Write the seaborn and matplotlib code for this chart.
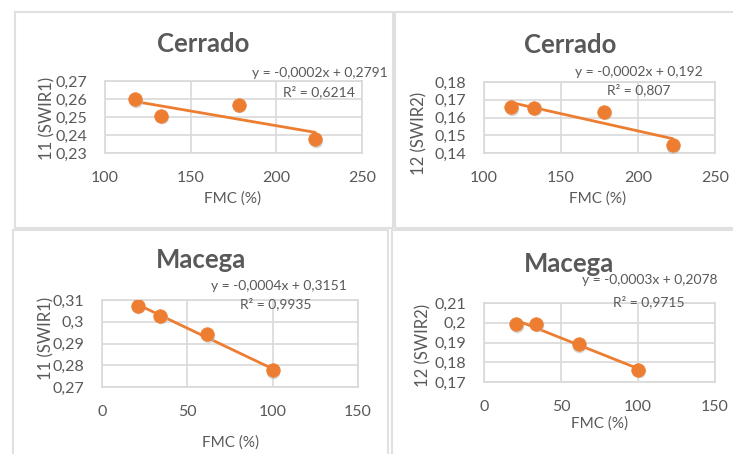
import numpy as np
import pandas as pd
import matplotlib
matplotlib.use("Agg")
import matplotlib.pyplot as plt
from matplotlib.ticker import FuncFormatter, MultipleLocator
from matplotlib.patches import Rectangle
import seaborn as sns

# ---- data ----
cerrado_fmc = [117.5, 132.7, 178.0, 222.6]
cerrado_swir1 = [0.2600, 0.2506, 0.2567, 0.2377]
cerrado_swir2 = [0.1657, 0.1655, 0.1632, 0.1443]
macega_fmc = [21.0, 34.0, 61.5, 100.0]
macega_swir1 = [0.3073, 0.3028, 0.2943, 0.2776]
macega_swir2 = [0.1993, 0.1995, 0.1890, 0.1763]

titles = ["Cerrado", "Cerrado", "Macega", "Macega"]
ylabels = ["11 (SWIR1)", "12 (SWIR2)", "11 (SWIR1)", "12 (SWIR2)"]
xlabel = "FMC (%)"
equations = ["y = -0,0002x + 0,2791", "y = -0,0002x + 0,192",
             "y = -0,0004x + 0,3151", "y = -0,0003x + 0,2078"]
r2_texts = ["R² = 0,6214", "R² = 0,807", "R² = 0,9935", "R² = 0,9715"]
xlims = [(100, 250), (100, 250), (0, 150), (0, 150)]
ylims = [(0.23, 0.27), (0.14, 0.18), (0.27, 0.31), (0.17, 0.21)]

sns.set_theme(style="white")
plt.rcParams['font.family'] = ['Lato', 'DejaVu Sans']

W, H = 733, 454
fig = plt.figure(figsize=(W / 100, H / 100), dpi=100)
fig.patch.set_facecolor("white")

def fx(px):
    return px / W

def fy(py):
    return 1 - py / H

# frames
frame_col = "#d9d9d9"
for (l, t, r, b) in [(15, 12, 393, 228), (395, 12, 740, 228),
                     (13, 230, 388, 460), (392, 230, 740, 460)]:
    fig.patches.append(Rectangle((fx(l), fy(b)), fx(r - l), (b - t) / H,
                                 transform=fig.transFigure, fill=False,
                                 edgecolor="#e0e0e0", linewidth=1.5))

# axes positions (pixels): left, top, right, bottom
boxes = [(105, 81, 362, 153), (484, 82, 715, 153),
         (102, 300, 358, 387), (484, 303, 715, 382)]
title_pos = [(203, 44), (570, 45), (201, 260), (569, 264)]
eq_pos = [(388, 73), (703, 72), (347, 286), (718, 280)]
r2_pos = [(355, 92), (670, 90), (311, 304), (685, 302)]
ylab_pos = [(47, 118), (419, 133), (46, 338), (423, 345)]
xlab_pos = [(233, 199), (598, 199), (231, 443), (600, 424)]

datasets = [(cerrado_fmc, cerrado_swir1), (cerrado_fmc, cerrado_swir2),
            (macega_fmc, macega_swir1), (macega_fmc, macega_swir2)]

orange = "#ED7D31"
txt = "#595959"

def fmt(v, pos):
    s = f"{round(v, 4):g}"
    return s.replace(".", ",")

for i in range(4):
    l, t, r, b = boxes[i]
    ax = fig.add_axes([fx(l), fy(b), fx(r - l), (b - t) / H])
    x, y = datasets[i]
    df = pd.DataFrame({"FMC": x, "val": y})
    sns.regplot(data=df, x="FMC", y="val", ax=ax, scatter=False, ci=None,
                truncate=True, line_kws=dict(color=orange, lw=2, zorder=3))
    # soft shadow
    ax.scatter(np.array(x) + 0.6 * (xlims[i][1] - xlims[i][0]) / (r - l),
               np.array(y) - 1.5 * (ylims[i][1] - ylims[i][0]) / (b - t),
               s=95, color="#bfbfbf", alpha=0.6, linewidths=0, zorder=3.5)
    sns.scatterplot(data=df, x="FMC", y="val", ax=ax, s=95, color=orange,
                    edgecolor=orange, linewidth=0.5, zorder=4, legend=False)
    ax.set_xlim(*xlims[i])
    ax.set_ylim(*ylims[i])
    ax.xaxis.set_major_locator(MultipleLocator(50))
    ax.yaxis.set_major_locator(MultipleLocator(0.01))
    ax.xaxis.set_major_formatter(FuncFormatter(fmt))
    ax.yaxis.set_major_formatter(FuncFormatter(fmt))
    ax.grid(True, color=frame_col, linewidth=1.2)
    ax.set_axisbelow(True)
    for sp in ax.spines.values():
        sp.set_color(frame_col)
        sp.set_linewidth(1.2)
    ax.tick_params(axis="both", length=0, labelsize=11.5, colors=txt)
    ax.tick_params(axis="x", pad=13)
    ax.tick_params(axis="y", pad=13)
    ax.set_xlabel("")
    ax.set_ylabel("")

    tx, ty = title_pos[i]
    fig.text(fx(tx), fy(ty), titles[i], ha="center", va="center",
             fontsize=18.5, fontweight="bold", color=txt)
    ex, ey = eq_pos[i]
    fig.text(fx(ex), fy(ey), equations[i], ha="right", va="center",
             fontsize=10, color=txt)
    rx, ry = r2_pos[i]
    fig.text(fx(rx), fy(ry), r2_texts[i], ha="right", va="center",
             fontsize=10, color=txt)
    yx, yy = ylab_pos[i]
    fig.text(fx(yx), fy(yy), ylabels[i], ha="center", va="center",
             rotation=90, fontsize=12, color=txt)
    xx, xy = xlab_pos[i]
    fig.text(fx(xx), fy(xy), xlabel, ha="center", va="center",
             fontsize=11, color=txt)

fig.savefig("out.png", dpi=100, facecolor="white")
